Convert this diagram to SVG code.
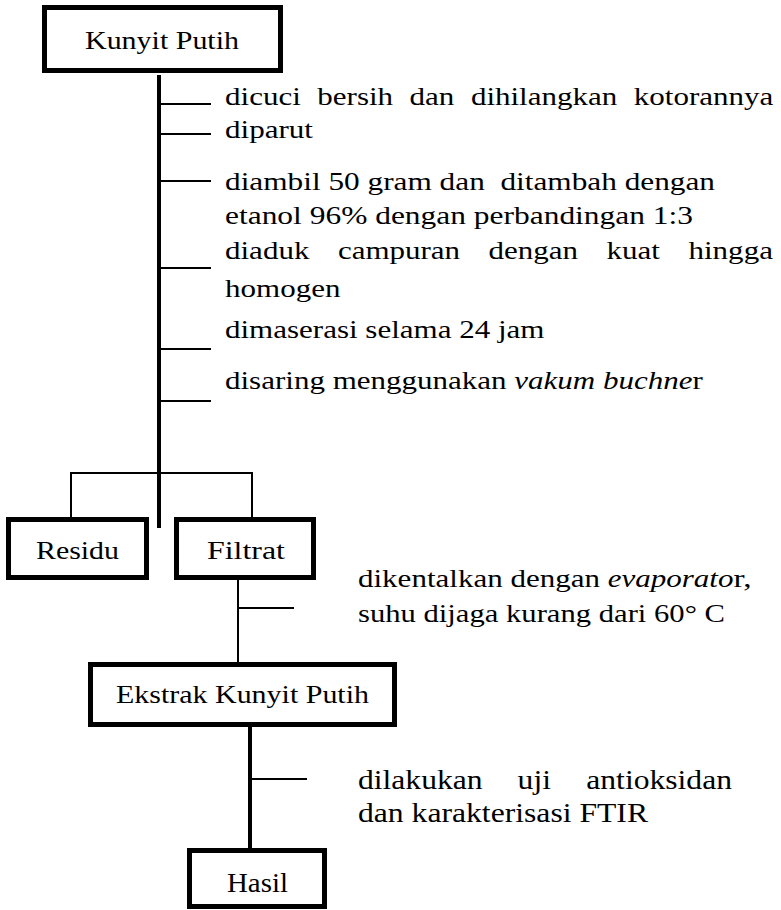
<svg xmlns="http://www.w3.org/2000/svg" width="781" height="910" viewBox="0 0 781 910">
<style>
.box{fill:#fff;stroke:#000;stroke-width:5}
.t{font-family:"Liberation Serif","Times New Roman",serif;font-size:26px;fill:#000;white-space:pre}
.tt{font-family:"Liberation Serif","Times New Roman",serif;font-size:27px;fill:#000;white-space:pre}
.i{font-style:italic}
.thick{stroke:#000;stroke-width:4;fill:none}
.thin{stroke:#000;stroke-width:2;fill:none}
</style>
<rect width="781" height="910" fill="#fff"/>
<g id="connectors">
<line class="thick" x1="159" y1="75" x2="159" y2="528"/>
<line class="thin" x1="159" y1="104" x2="211" y2="104"/>
<line class="thin" x1="159" y1="134" x2="211" y2="134"/>
<line class="thin" x1="159" y1="181" x2="211" y2="181"/>
<line class="thin" x1="159" y1="268" x2="211" y2="268"/>
<line class="thin" x1="159" y1="349" x2="211" y2="349"/>
<line class="thin" x1="159" y1="401" x2="211" y2="401"/>
<polyline class="thin" points="71,518 71,473 252,473 252,518"/>
<line class="thin" x1="238" y1="580" x2="238" y2="663"/>
<line class="thin" x1="238" y1="608" x2="294" y2="608"/>
<line class="thick" x1="250" y1="727" x2="250" y2="848"/>
<line class="thin" x1="250" y1="779" x2="307" y2="779"/>
</g>
<g id="labels">
<text class="t" x="225" y="105" textLength="75.8" lengthAdjust="spacingAndGlyphs">dicuci</text>
<text class="t" x="317.3" y="105" textLength="75.8" lengthAdjust="spacingAndGlyphs">bersih</text>
<text class="t" x="409.6" y="105" textLength="44.8" lengthAdjust="spacingAndGlyphs">dan</text>
<text class="t" x="470.9" y="105" textLength="146.4" lengthAdjust="spacingAndGlyphs">dihilangkan</text>
<text class="t" x="633.8" y="105" textLength="139.5" lengthAdjust="spacingAndGlyphs">kotorannya</text>
<text class="t" x="225" y="138" textLength="88" lengthAdjust="spacingAndGlyphs">diparut</text>
<text class="t" x="225" y="190" textLength="490" lengthAdjust="spacingAndGlyphs">diambil 50 gram dan  ditambah dengan</text>
<text class="t" x="225" y="224" textLength="468" lengthAdjust="spacingAndGlyphs">etanol 96% dengan perbandingan 1:3</text>
<text class="t" x="225" y="259" textLength="84.4" lengthAdjust="spacingAndGlyphs">diaduk</text>
<text class="t" x="337.9" y="259" textLength="122.2" lengthAdjust="spacingAndGlyphs">campuran</text>
<text class="t" x="488.6" y="259" textLength="89.5" lengthAdjust="spacingAndGlyphs">dengan</text>
<text class="t" x="606.6" y="259" textLength="53.4" lengthAdjust="spacingAndGlyphs">kuat</text>
<text class="t" x="688.5" y="259" textLength="84.4" lengthAdjust="spacingAndGlyphs">hingga</text>
<text class="t" x="225" y="297" textLength="115.4" lengthAdjust="spacingAndGlyphs">homogen</text>
<text class="t" x="225" y="338" textLength="319.4" lengthAdjust="spacingAndGlyphs">dimaserasi selama 24 jam</text>
<text class="t" x="225" y="389" textLength="289.3" lengthAdjust="spacingAndGlyphs">disaring menggunakan </text>
<text class="t i" x="514.3" y="389" textLength="178.2" lengthAdjust="spacingAndGlyphs">vakum buchne</text>
<text class="t" x="692.5" y="389" textLength="10.3" lengthAdjust="spacingAndGlyphs">r</text>
<text class="t" x="358" y="587" textLength="249.7" lengthAdjust="spacingAndGlyphs">dikentalkan dengan </text>
<text class="t i" x="607.7" y="587" textLength="125.7" lengthAdjust="spacingAndGlyphs">evaporato</text>
<text class="t" x="733.4" y="587" textLength="18.1" lengthAdjust="spacingAndGlyphs">r,</text>
<text class="t" x="358" y="622" textLength="367" lengthAdjust="spacingAndGlyphs">suhu dijaga kurang dari 60° C</text>
<text class="tt" x="358" y="789" textLength="124.6" lengthAdjust="spacingAndGlyphs">dilakukan</text>
<text class="tt" x="517.6" y="789" textLength="33.4" lengthAdjust="spacingAndGlyphs">uji</text>
<text class="tt" x="586.3" y="789" textLength="145.7" lengthAdjust="spacingAndGlyphs">antioksidan</text>
<text class="tt" x="358" y="822" textLength="290" lengthAdjust="spacingAndGlyphs">dan karakterisasi FTIR</text>
</g>
<g id="node-kunyit-putih">
<rect class="box" x="44.5" y="7.5" width="236" height="63"/>
<text class="t" x="85" y="49" textLength="154" lengthAdjust="spacingAndGlyphs">Kunyit Putih</text>
</g>
<g id="node-residu">
<rect class="box" x="8.5" y="519.5" width="138" height="58"/>
<text class="t" x="36" y="559" textLength="83" lengthAdjust="spacingAndGlyphs">Residu</text>
</g>
<g id="node-filtrat">
<rect class="box" x="176.5" y="519.5" width="137" height="58"/>
<text class="t" x="207" y="559" textLength="78" lengthAdjust="spacingAndGlyphs">Filtrat</text>
</g>
<g id="node-ekstrak">
<rect class="box" x="90.5" y="664.5" width="304" height="60"/>
<text class="t" x="116" y="703" textLength="253" lengthAdjust="spacingAndGlyphs">Ekstrak Kunyit Putih</text>
</g>
<g id="node-hasil">
<rect class="box" x="189.5" y="850.5" width="135" height="56"/>
<text class="tt" x="227" y="892" textLength="61" lengthAdjust="spacingAndGlyphs">Hasil</text>
</g>
</svg>
